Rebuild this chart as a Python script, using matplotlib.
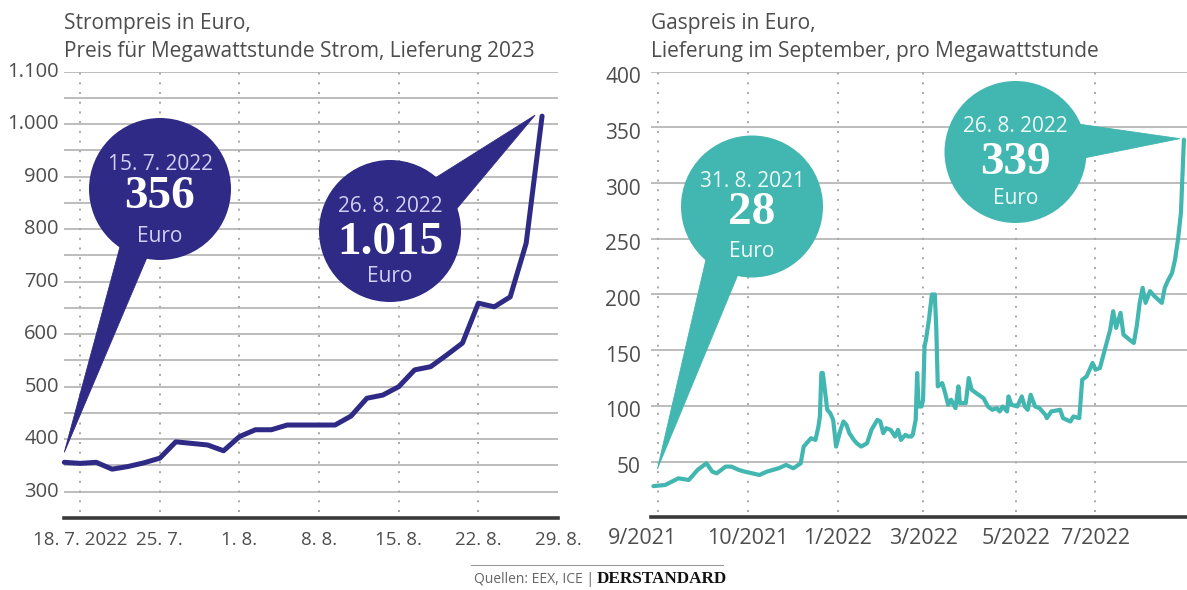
import matplotlib
matplotlib.use("Agg")
import matplotlib.pyplot as plt
import matplotlib.dates as mdates
import matplotlib.transforms as mtransforms
from matplotlib.patches import Circle, Polygon
import numpy as np
import pandas as pd

# ---------------- data ----------------
# Strompreis (EEX, Lieferung 2023), trading days 15.7.–26.8.2022
strom_dates = ['15.7.', '18.7.', '19.7.', '20.7.', '21.7.', '22.7.',
               '25.7.', '26.7.', '27.7.', '28.7.', '29.7.',
               '1.8.', '2.8.', '3.8.', '4.8.', '5.8.',
               '8.8.', '9.8.', '10.8.', '11.8.', '12.8.',
               '15.8.', '16.8.', '17.8.', '18.8.', '19.8.',
               '22.8.', '23.8.', '24.8.', '25.8.', '26.8.']
strom_values = [356, 354, 356, 343, 348, 355,
                364, 395, 392, 389, 378,
                405, 418, 418, 427, 427,
                427, 427, 444, 478, 484,
                500, 532, 538, 560, 583,
                659, 652, 671, 773, 1015]
strom_tick_index = [1, 6, 11, 16, 21, 26, 31]
strom_tick_labels = ['18. 7. 2022', '25. 7.', '1. 8.', '8. 8.', '15. 8.', '22. 8.', '29. 8.']
strom_y_ticks = [300, 400, 500, 600, 700, 800, 900, 1000, 1100]
strom_y_labels = ['300', '400', '500', '600', '700', '800', '900', '1.000', '1.100']

# Gaspreis (ICE, Lieferung September), days since 31.8.2021
gas_start = '2021-08-31'
gas_day = [0, 8, 17, 24, 30, 36, 40, 43, 49, 53, 58, 62, 67, 72, 77, 81, 85, 90, 95, 100,
           102, 104, 107, 110, 112, 113, 114, 115, 118, 120, 122, 124, 127, 129, 131, 133, 136, 138, 141, 145,
           148, 152, 154, 156, 158, 161, 164, 166, 168, 171, 173, 175, 176, 178, 179, 180, 182, 183, 184, 185,
           187, 189, 191, 192, 193, 196, 198, 200, 202, 205, 207, 208, 212, 214, 216, 219, 224, 227, 230, 233,
           235, 237, 240, 241, 243, 247, 250, 252, 254, 256, 259, 262, 266, 267, 270, 276, 278, 283, 285, 289,
           291, 294, 296, 298, 300, 303, 307, 310, 312, 314, 317, 319, 323, 326, 328, 330, 332, 334, 337, 340,
           345, 347, 349, 352, 354, 356, 358, 360]
gas_values = [28, 29, 35, 33.5, 42.5, 48.5, 41, 39.5, 45.5, 45.5, 42.5, 41, 39.5, 38, 41, 42.5, 44, 47, 44, 48.5,
              63.5, 66.5, 71, 69.5, 81.5, 90.5, 129.5, 129.5, 96.5, 93.5, 87.5, 63.5, 78.5, 86, 83, 75.5, 69.5, 66.5, 63.5, 66.5,
              78.5, 87.5, 86, 75.5, 80, 78.5, 72.5, 78.5, 69.5, 74, 72.5, 72.5, 74, 87.5, 129.5, 99.5, 99.5, 105.5, 153.5, 159.5,
              177.5, 200, 200, 168.5, 117.5, 120.5, 111.5, 101, 105.5, 98, 117.5, 102.5, 102.5, 125, 114.5, 111.5, 107, 99.5, 96.5, 98,
              95, 99.5, 95, 108.5, 101, 99.5, 108.5, 99.5, 96.5, 110, 99.5, 98, 92, 89, 95, 96.5, 89, 86, 90.5, 89,
              123.5, 126.5, 132.5, 138.5, 132.5, 134, 153.5, 168.5, 185, 170, 183.5, 164, 159.5, 156.5, 171.5, 192.5, 206, 192.5, 203, 198.5,
              192.5, 206, 212, 219.5, 231.5, 249.5, 273.5, 339]
gas_tick_dates = ['2021-09-03', '2021-11-03', '2022-01-03', '2022-03-02', '2022-05-04', '2022-06-27']
gas_tick_labels = ['9/2021', '10/2021', '1/2022', '3/2022', '5/2022', '7/2022']
gas_y_ticks = [50, 100, 150, 200, 250, 300, 350, 400]

# ---------------- style ----------------
NAVY = '#2e2a85'
TEAL = '#42b6b0'
GRID = '#b8b8b8'
DOT = '#a8a8a8'
AXIS = '#3a3a3a'
TXT = '#4d4d4d'
SANS = 'Open Sans'
SERIF = 'Liberation Serif'

W, H = 1187, 590
fig = plt.figure(figsize=(W / 100, H / 100), dpi=100)
fig.patch.set_facecolor('white')


def rect(l, t, r, b):
    return [l / W, 1 - b / H, (r - l) / W, (b - t) / H]


axL = fig.add_axes(rect(64.3, 71.5, 558, 518))
axR = fig.add_axes(rect(651, 71.7, 1187, 517.3))

for ax in (axL, axR):
    for s in ('left', 'right', 'top'):
        ax.spines[s].set_visible(False)
    ax.spines['bottom'].set_color(AXIS)
    ax.spines['bottom'].set_linewidth(2.6)
    ax.spines['bottom'].set_zorder(5)
    ax.set_xticks([])
    ax.set_yticks([])
    ax.set_facecolor('none')

# ---- left chart ----
x_strom = np.arange(len(strom_values))
axL.set_xlim(0, 31)
axL.set_ylim(250, 1100)
for v in range(300, 1101, 50):
    axL.axhline(v, color=GRID, lw=1.3, zorder=1)
axL.vlines(strom_tick_index[:-1], 261, 1100, colors=DOT, lw=1.4,
           linestyles=(0, (1, 4)), zorder=1)
axL.plot(x_strom, strom_values, color=NAVY, lw=3.6, solid_joinstyle='round',
         solid_capstyle='round', zorder=3, clip_on=False)

yt = mtransforms.blended_transform_factory(axL.transAxes, axL.transData)
for v, lab in zip(strom_y_ticks, strom_y_labels):
    axL.text(-0.011, v, lab, transform=yt, ha='right', va='center',
             fontsize=14.5, color=TXT, family=SANS)
xt = mtransforms.blended_transform_factory(axL.transData, axL.transAxes)
for i, lab in zip(strom_tick_index, strom_tick_labels):
    axL.text(i, -0.049, lab, transform=xt, ha='center', va='center',
             fontsize=13.5, color=TXT, family=SANS, clip_on=False)

# ---- right chart ----
gas_dates = pd.Timestamp(gas_start) + pd.to_timedelta(gas_day, unit='D')
t0 = pd.Timestamp(gas_start)
axR.set_xlim(t0 - pd.Timedelta(days=1.6), t0 + pd.Timedelta(days=362.1))
axR.set_ylim(0, 400)
for v in gas_y_ticks:
    axR.axhline(v, color=GRID, lw=1.3, zorder=1)
gtd = pd.to_datetime(gas_tick_dates)
axR.vlines(gtd, 5, 400, colors=DOT, lw=1.4, linestyles=(0, (1, 4)), zorder=1)
axR.plot(gas_dates, gas_values, color=TEAL, lw=3.0, solid_joinstyle='round',
         solid_capstyle='round', zorder=3, clip_on=False)

yt = mtransforms.offset_copy(
    mtransforms.blended_transform_factory(axR.transAxes, axR.transData),
    fig=fig, x=-10, y=-6, units='dots')
for v in gas_y_ticks:
    axR.text(0, v, str(v), transform=yt, ha='right', va='center',
             fontsize=15, color=TXT, family=SANS)
xt = mtransforms.blended_transform_factory(axR.transData, axR.transAxes)
for k, (d, lab) in enumerate(zip(gtd, gas_tick_labels)):
    tr = xt if k > 0 else mtransforms.offset_copy(xt, fig=fig, x=-15, y=0, units='dots')
    axR.text(d, -0.047, lab, transform=tr, ha='center', va='center',
             fontsize=15.5, color=TXT, family=SANS, clip_on=False)

# ---- titles ----
TS = 15
fig.text(64.3 / W, 1 - 29 / H, 'Strompreis in Euro,', fontsize=TS, color=TXT,
         family=SANS, va='baseline', ha='left')
fig.text(64.3 / W, 1 - 56.5 / H, 'Preis für Megawattstunde Strom, Lieferung 2023',
         fontsize=TS, color=TXT, family=SANS, va='baseline', ha='left')
fig.text(651 / W, 1 - 29.5 / H, 'Gaspreis in Euro,', fontsize=TS, color=TXT,
         family=SANS, va='baseline', ha='left')
fig.text(651 / W, 1 - 56.5 / H, 'Lieferung im September, pro Megawattstunde',
         fontsize=TS, color=TXT, family=SANS, va='baseline', ha='left')

# ---- overlay for callout bubbles (pixel coordinates) ----
ov = fig.add_axes([0, 0, 1, 1], zorder=10)
ov.set_xlim(0, W)
ov.set_ylim(H, 0)
ov.axis('off')


def to_px(ax, x, y):
    px, py = ax.transData.transform((x, y))
    return px, H - py


def bubble(center, r, base1, base2, tip, color, date_txt, num_txt, date_col, dy):
    ov.add_patch(Polygon([base1, base2, tip], closed=True, fc=color, ec=color,
                         lw=0.6, joinstyle='miter'))
    ov.add_patch(Circle(center, r, fc=color, ec='none'))
    cx, cy = center
    ov.text(cx, cy + dy[0], date_txt, ha='center', va='center', fontsize=15,
            color=date_col, family=SANS)
    ov.text(cx, cy + dy[1], num_txt, ha='center', va='center', fontsize=34,
            color='white', family=SERIF, fontweight='bold')
    ov.text(cx, cy + dy[2], 'Euro', ha='center', va='center', fontsize=15,
            color=date_col, family=SANS)


p0 = to_px(axL, x_strom[0], strom_values[0])
p1 = to_px(axL, x_strom[-1], strom_values[-1])
bubble((160, 189), 71, (121, 243), (148, 255), (p0[0], p0[1] - 10), NAVY,
       '15. 7. 2022', '356', '#d2d0f3', (-24, 8, 48))
bubble((390, 231), 71, (432, 180), (454, 212), (p1[0] - 7, p1[1] - 1), NAVY,
       '26. 8. 2022', '1.015', '#d2d0f3', (-25, 12, 46))

g0 = to_px(axR, mdates.date2num(gas_dates[0]), gas_values[0])
g1 = to_px(axR, mdates.date2num(gas_dates[-1]), gas_values[-1])
bubble((752, 206.5), 71, (707, 255), (739, 272), (g0[0] + 4, g0[1] - 17), TEAL,
       '31. 8. 2021', '28', '#eefaf9', (-25, 7, 45))
bubble((1015.5, 152), 71, (1078, 124), (1084, 158), (g1[0] - 4, g1[1] - 1), TEAL,
       '26. 8. 2022', '339', '#eefaf9', (-25, 11, 46))

# ---- source line ----
ov.plot([471, 723], [565, 565], color='#9a9a9a', lw=0.8)
ov.text(474.5, 583, 'Quellen: EEX, ICE |', ha='left', va='baseline', fontsize=10,
        color='#666666', family=SANS)
ov.text(597, 583, 'DERSTANDARD', ha='left', va='baseline', fontsize=12.3,
        color='#111111', family=SERIF, fontweight='bold')

fig.savefig('out.png', dpi=100, facecolor='white')
